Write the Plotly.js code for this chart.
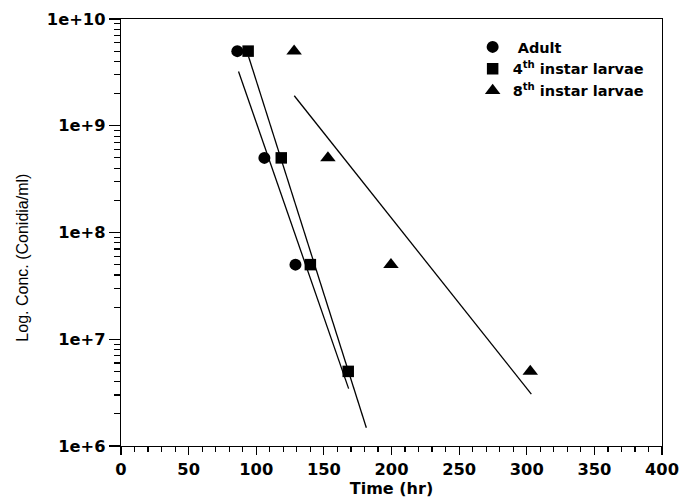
<!DOCTYPE html>
<html>
<head>
<meta charset="utf-8">
<script src="https://cdn.plot.ly/plotly-3.0.1.min.js"></script>
<style>
  html, body { margin: 0; padding: 0; background: #fff; }
  #chart { width: 680px; height: 499px; }
</style>
</head>
<body>
<div id="chart"></div>
<script>
// Measured points (time in hr, concentration in conidia/ml)
const adultTime = [86, 106, 129];
const adultConc = [5e9, 5e8, 5e7];
const instar4Time = [94, 118.5, 140, 168];
const instar4Conc = [5e9, 5e8, 5e7, 5e6];
const instar8Time = [128, 153, 199.6, 302.6];
const instar8Conc = [5e9, 5e8, 5e7, 5e6];

// Fitted regression lines (end points)
const adultFitTime = [86.9, 168.3];
const adultFitConc = [3.22e9, 3.45e6];
const instar4FitTime = [94.3, 181.4];
const instar4FitConc = [4.46e9, 1.48e6];
const instar8FitTime = [128.1, 303.4];
const instar8FitConc = [1.91e9, 3.06e6];

// Series names, axis titles and tick labels
const seriesNames = ['\u00a0Adult', '4<sup>th</sup> instar larvae', '8<sup>th</sup> instar larvae'];
const xTitle = 'Time (hr)';
const yTitle = 'Log. Conc. (Conidia/ml)';
const yTickVals = [1e6, 1e7, 1e8, 1e9, 1e10];
const yTickText = ['1e+6', '1e+7', '1e+8', '1e+9', '1e+10'];
const xTickVals = [0, 50, 100, 150, 200, 250, 300, 350, 400];

const tickFont = {family: 'DejaVu Sans', size: 16.3, color: '#000', weight: 'bold'};

function fitLine(x, y) {
  return {x: x, y: y, type: 'scatter', mode: 'lines', showlegend: false,
          hoverinfo: 'skip', line: {color: '#000', width: 1.3}};
}

const traces = [
  fitLine(adultFitTime, adultFitConc),
  fitLine(instar4FitTime, instar4FitConc),
  fitLine(instar8FitTime, instar8FitConc),
  {x: adultTime, y: adultConc, name: seriesNames[0], type: 'scatter', mode: 'markers',
   marker: {symbol: 'circle', size: 12, color: '#000'}},
  {x: instar4Time, y: instar4Conc, name: seriesNames[1], type: 'scatter', mode: 'markers',
   marker: {symbol: 'square', size: 11.5, color: '#000'}},
  {x: instar8Time, y: instar8Conc, name: seriesNames[2], type: 'scatter', mode: 'markers',
   marker: {symbol: 'triangle-up', size: 13.5, color: '#000'}}
];

const layout = {
  width: 680, height: 499,
  margin: {l: 121, r: 18, t: 19, b: 53, pad: 0},
  paper_bgcolor: '#fff', plot_bgcolor: '#fff',
  showlegend: true,
  legend: {x: 0.65, y: 0.972, xanchor: 'left', yanchor: 'top',
           bgcolor: 'rgba(0,0,0,0)', borderwidth: 0,
           font: {family: 'DejaVu Sans', size: 14.5, color: '#000', weight: 'bold'},
           traceorder: 'normal', itemwidth: 30},
  xaxis: {
    range: [0, 400], tickvals: xTickVals, ticks: 'outside', ticklen: 8, tickwidth: 1.2,
    tickcolor: '#000', showline: true, linecolor: '#000', linewidth: 1.2, mirror: true,
    showgrid: false, zeroline: false, tickfont: tickFont,
    minor: {dtick: 10, ticks: 'outside', ticklen: 5, tickwidth: 1.2, tickcolor: '#000', showgrid: false},
    title: {text: xTitle, standoff: 1,
            font: {family: 'DejaVu Sans', size: 16, color: '#000', weight: 'bold'}}
  },
  yaxis: {
    type: 'log', range: [6, 10], tickvals: yTickVals, ticktext: yTickText,
    ticks: 'outside', ticklen: 11, tickwidth: 1.2, tickcolor: '#000',
    showline: true, linecolor: '#000', linewidth: 1.2, mirror: true,
    showgrid: false, zeroline: false, tickfont: tickFont,
    minor: {dtick: 'D1', ticks: 'outside', ticklen: 6, tickwidth: 1.2, tickcolor: '#000', showgrid: false}
  },
  annotations: [{
    text: yTitle, xref: 'paper', yref: 'paper', x: -0.182, y: 0.44,
    xanchor: 'center', yanchor: 'middle', textangle: -90, showarrow: false,
    font: {family: 'Liberation Sans', size: 16, color: '#000'}
  }]
};

Plotly.newPlot('chart', traces, layout, {displayModeBar: false, staticPlot: true});
</script>
</body>
</html>
